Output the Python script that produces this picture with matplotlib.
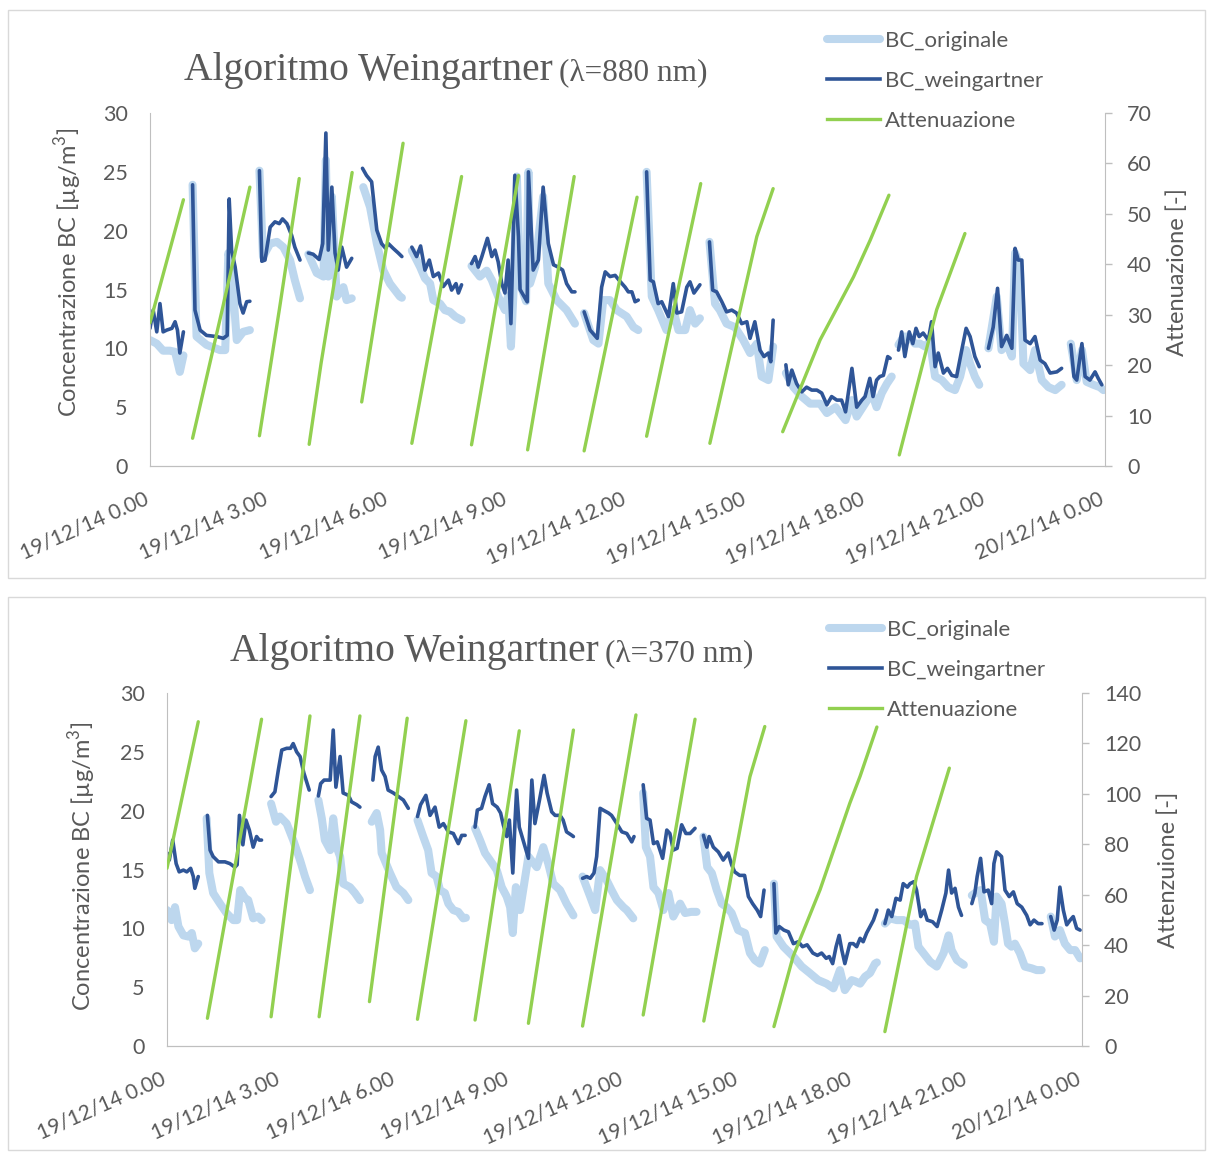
import numpy as np
import matplotlib.pyplot as plt
from matplotlib.lines import Line2D
from matplotlib.patches import Rectangle

# ---- data: (hour of 19/12/14, value) per filter spot, gaps between spots ----
# lambda = 880 nm
bc_orig_880 = [
    [(0.00, 10.7), (0.17, 10.4), (0.33, 9.8), (0.50, 9.8), (0.63, 9.7), (0.75, 8.0), (0.84, 9.4)],
    [(1.07, 23.9), (1.17, 11.0), (1.42, 10.3), (1.76, 9.85), (1.89, 9.85), (1.97, 18.1), (2.05, 16.7),
     (2.18, 10.7), (2.34, 11.4), (2.51, 11.55)],
    [(2.75, 25.1), (2.84, 17.8), (3.02, 18.9), (3.19, 19.05), (3.35, 18.6), (3.52, 17.5), (3.64, 15.8),
     (3.77, 14.25)],
    [(3.98, 18.0), (4.19, 16.4), (4.36, 16.1), (4.42, 26.0), (4.48, 16.1), (4.57, 22.9), (4.69, 14.4),
     (4.86, 15.2), (4.94, 14.1), (5.07, 14.25)],
    [(5.36, 23.7), (5.53, 22.0), (5.70, 18.9), (5.86, 16.65), (6.03, 15.5), (6.28, 14.4), (6.33, 14.3)],
    [(6.58, 18.3), (6.79, 16.9), (6.91, 15.95), (7.04, 15.5), (7.12, 14.1), (7.29, 13.8), (7.41, 13.25),
     (7.54, 13.1), (7.67, 12.7), (7.83, 12.4)],
    [(8.08, 17.0), (8.29, 16.1), (8.46, 16.6), (8.59, 15.8), (8.75, 14.4), (8.92, 13.25), (9.00, 14.5),
     (9.07, 10.15), (9.13, 14.4), (9.22, 24.6), (9.30, 15.5), (9.45, 14.0), (9.51, 25.0), (9.55, 15.5),
     (9.68, 16.9), (9.88, 22.9), (10.01, 15.5), (10.22, 14.1), (10.47, 13.25), (10.68, 12.1)],
    [(10.91, 13.0), (11.14, 10.7), (11.27, 10.4), (11.39, 14.1), (11.56, 14.1), (11.73, 13.25),
     (11.98, 12.7), (12.15, 11.8), (12.27, 11.55)],
    [(12.48, 25.0), (12.61, 14.4), (12.77, 13.25), (12.98, 11.55), (13.15, 13.3), (13.28, 11.55),
     (13.45, 11.55), (13.57, 13.25), (13.70, 12.1), (13.82, 12.55)],
    [(14.06, 19.05), (14.20, 13.8), (14.32, 13.25), (14.49, 12.1), (14.70, 11.8), (14.91, 10.7),
     (15.08, 9.6), (15.25, 10.4), (15.37, 7.6), (15.54, 7.3), (15.66, 10.15)],
    [(15.98, 7.9), (16.17, 6.7), (16.38, 5.9), (16.59, 5.3), (16.84, 5.3), (17.01, 4.5), (17.23, 5.0),
     (17.48, 3.9), (17.64, 5.6), (17.76, 4.2), (17.97, 5.3), (18.14, 6.2), (18.26, 5.0), (18.39, 6.2),
     (18.52, 7.0), (18.64, 7.6)],
    [(18.81, 10.3), (18.94, 11.0), (19.08, 11.0), (19.22, 10.4), (19.35, 10.4), (19.48, 10.15),
     (19.60, 10.6), (19.73, 7.6), (19.90, 7.3), (20.06, 6.7), (20.23, 6.45), (20.36, 7.6), (20.51, 9.85),
     (20.61, 8.7), (20.73, 7.6), (20.84, 6.9)],
    [(21.07, 10.0), (21.28, 14.4), (21.40, 9.85), (21.53, 10.4), (21.66, 9.3), (21.74, 18.1), (21.86, 16.9),
     (21.95, 8.7), (22.12, 8.15), (22.24, 9.85), (22.41, 7.3), (22.58, 6.7), (22.75, 6.45), (22.91, 6.9)],
    [(23.14, 10.4), (23.29, 7.3), (23.42, 9.85), (23.54, 7.15), (23.71, 6.9), (23.87, 6.7), (23.96, 6.45)],
]

bc_wein_880 = [
    [(0.00, 11.7), (0.08, 13.25), (0.17, 11.4), (0.25, 13.8), (0.33, 11.4), (0.42, 11.55), (0.55, 11.7),
     (0.63, 12.26), (0.69, 11.55), (0.75, 9.6), (0.84, 11.4)],
    [(1.07, 23.9), (1.13, 13.25), (1.26, 11.55), (1.42, 11.1), (1.68, 11.0), (1.84, 10.85), (1.94, 11.1),
     (1.99, 22.7), (2.05, 18.35), (2.14, 16.9), (2.26, 13.8), (2.34, 13.0), (2.43, 13.96), (2.51, 14.0)],
    [(2.75, 25.1), (2.81, 17.4), (2.89, 17.5), (3.02, 20.3), (3.14, 20.75), (3.25, 20.6), (3.33, 21.0),
     (3.44, 20.6), (3.56, 19.6), (3.64, 18.6), (3.77, 17.5)],
    [(3.98, 18.1), (4.10, 18.0), (4.25, 17.55), (4.34, 18.9), (4.42, 28.3), (4.48, 18.35), (4.57, 23.7),
     (4.65, 18.1), (4.73, 16.65), (4.82, 18.6), (4.94, 16.9), (5.07, 17.65)],
    [(5.34, 25.3), (5.44, 24.7), (5.57, 24.15), (5.61, 22.9), (5.70, 20.05), (5.82, 18.9), (5.92, 18.5),
     (5.99, 18.9), (6.11, 18.5), (6.24, 18.1), (6.33, 17.8)],
    [(6.58, 18.6), (6.70, 17.8), (6.80, 18.7), (6.91, 16.65), (7.02, 17.5), (7.12, 16.1), (7.25, 16.4),
     (7.37, 15.25), (7.50, 15.8), (7.58, 14.95), (7.69, 15.5), (7.75, 14.7), (7.83, 15.4)],
    [(8.08, 17.2), (8.17, 17.8), (8.25, 16.9), (8.34, 17.8), (8.48, 19.35), (8.59, 17.8), (8.67, 18.35),
     (8.75, 17.35), (8.84, 15.5), (8.92, 14.7), (9.00, 17.5), (9.07, 12.1), (9.13, 19.5), (9.17, 24.7),
     (9.26, 19.5), (9.30, 15.0), (9.48, 13.95), (9.51, 25.0), (9.63, 16.65), (9.76, 17.5), (9.88, 23.7),
     (10.01, 18.9), (10.14, 17.1), (10.26, 16.9), (10.37, 16.65), (10.47, 15.5), (10.60, 14.8), (10.68, 14.8)],
    [(10.91, 13.1), (11.06, 11.55), (11.24, 10.85), (11.35, 15.2), (11.44, 16.5), (11.56, 16.1),
     (11.69, 16.2), (11.81, 15.7), (11.94, 15.2), (12.02, 14.8), (12.11, 14.8), (12.19, 13.96), (12.27, 14.1)],
    [(12.48, 25.0), (12.57, 15.8), (12.65, 15.65), (12.77, 13.8), (12.86, 13.96), (13.03, 12.7),
     (13.15, 15.5), (13.24, 13.0), (13.36, 13.1), (13.49, 15.2), (13.57, 15.65), (13.67, 14.7), (13.82, 15.4)],
    [(14.06, 19.05), (14.14, 14.95), (14.24, 14.8), (14.37, 13.96), (14.49, 13.1), (14.62, 13.25),
     (14.74, 13.0), (14.87, 12.1), (15.00, 12.26), (15.08, 10.85), (15.20, 12.26), (15.33, 9.85),
     (15.43, 9.3), (15.54, 9.6), (15.60, 8.86), (15.66, 12.4)],
    [(15.98, 8.6), (16.04, 6.9), (16.13, 8.15), (16.25, 7.0), (16.38, 6.3), (16.50, 6.7), (16.63, 6.45),
     (16.76, 6.45), (16.88, 6.2), (17.01, 5.2), (17.13, 5.9), (17.26, 5.6), (17.38, 5.6), (17.48, 4.6),
     (17.64, 8.3), (17.76, 5.0), (17.89, 5.6), (17.97, 5.9), (18.09, 7.45), (18.17, 5.9), (18.26, 7.3),
     (18.34, 7.6), (18.43, 7.7), (18.54, 9.3), (18.60, 9.15)],
    [(18.81, 9.85), (18.89, 11.4), (18.97, 9.3), (19.08, 11.4), (19.17, 10.4), (19.25, 11.7), (19.33, 11.0),
     (19.43, 11.3), (19.56, 10.7), (19.64, 12.26), (19.73, 8.44), (19.81, 9.6), (19.94, 7.9), (20.04, 8.3),
     (20.15, 7.7), (20.27, 7.6), (20.40, 9.85), (20.51, 11.7), (20.61, 11.0), (20.73, 9.3), (20.84, 8.44)],
    [(21.07, 10.0), (21.19, 11.8), (21.30, 15.1), (21.40, 10.15), (21.53, 11.1), (21.66, 10.0),
     (21.74, 18.5), (21.82, 17.5), (21.91, 17.5), (21.99, 10.7), (22.12, 10.4), (22.24, 11.0), (22.37, 9.0),
     (22.49, 8.7), (22.62, 7.9), (22.79, 8.0), (22.91, 8.3)],
    [(23.14, 10.3), (23.22, 7.6), (23.29, 7.3), (23.42, 10.4), (23.50, 7.6), (23.62, 7.3), (23.75, 8.0),
     (23.83, 7.45), (23.92, 6.9)],
]

att_880 = [
    [(0.00, 28.4), (0.84, 52.8)],
    [(1.07, 5.5), (1.80, 30.5), (2.51, 55.3)],
    [(2.75, 6.0), (3.25, 31.0), (3.75, 57.0)],
    [(4.00, 4.3), (4.30, 20.4), (5.08, 58.2)],
    [(5.32, 12.7), (6.36, 64.0)],
    [(6.58, 4.5), (7.83, 57.4)],
    [(8.08, 4.2), (9.26, 57.6)],
    [(9.49, 3.2), (10.66, 57.4)],
    [(10.91, 3.0), (12.24, 53.3)],
    [(12.48, 5.9), (13.84, 56.0)],
    [(14.07, 4.5), (15.25, 45.5), (15.66, 55.0)],
    [(15.90, 6.8), (16.84, 25.0), (17.68, 37.5), (18.10, 44.8), (18.57, 53.7)],
    [(18.83, 2.2), (19.77, 31.0), (20.48, 46.1)],
]

# lambda = 370 nm
bc_orig_370 = [
    [(0.00, 11.55), (0.12, 10.7), (0.21, 11.8), (0.30, 10.15), (0.43, 9.4), (0.56, 9.3), (0.65, 9.6),
     (0.73, 8.3), (0.82, 8.7)],
    [(1.04, 19.35), (1.11, 14.7), (1.21, 13.0), (1.39, 12.1), (1.56, 11.3), (1.74, 10.7), (1.84, 10.7),
     (1.92, 13.25), (2.05, 12.55), (2.13, 12.4), (2.26, 10.85), (2.39, 11.0), (2.48, 10.7)],
    [(2.73, 20.6), (2.86, 19.06), (2.96, 19.5), (3.14, 18.9), (3.31, 17.5), (3.49, 15.8), (3.62, 14.4),
     (3.75, 13.25)],
    [(3.97, 20.9), (4.06, 19.35), (4.14, 17.5), (4.28, 16.65), (4.36, 19.35), (4.45, 16.9), (4.54, 16.1),
     (4.62, 13.8), (4.80, 13.5), (4.93, 13.0), (5.06, 12.4)],
    [(5.37, 19.06), (5.50, 19.8), (5.59, 18.35), (5.63, 16.4), (5.85, 14.7), (6.02, 13.5), (6.20, 13.0),
     (6.33, 12.4)],
    [(6.57, 19.2), (6.72, 17.8), (6.85, 16.65), (6.94, 14.7), (7.07, 14.4), (7.16, 13.25), (7.29, 13.0),
     (7.38, 12.1), (7.51, 11.55), (7.64, 11.4), (7.77, 10.85), (7.84, 10.9)],
    [(8.08, 18.5), (8.21, 17.5), (8.34, 16.4), (8.47, 15.8), (8.65, 14.95), (8.78, 13.5), (8.91, 12.7),
     (9.00, 11.8), (9.07, 9.6), (9.15, 13.5), (9.26, 11.55), (9.48, 16.1), (9.70, 15.2), (9.87, 16.9),
     (10.00, 15.5), (10.13, 13.8), (10.31, 13.25), (10.48, 12.1), (10.66, 11.1)],
    [(10.90, 14.4), (11.10, 12.7), (11.23, 11.55), (11.36, 14.95), (11.53, 14.1), (11.66, 13.25),
     (11.80, 12.4), (11.97, 11.8), (12.06, 11.55), (12.23, 10.85)],
    [(12.49, 21.5), (12.56, 16.9), (12.67, 16.1), (12.76, 13.5), (12.89, 13.0), (13.02, 11.55),
     (13.15, 13.0), (13.28, 11.0), (13.46, 12.1), (13.59, 11.3), (13.75, 11.4), (13.89, 11.4)],
    [(14.07, 17.8), (14.17, 15.2), (14.29, 14.7), (14.42, 13.25), (14.55, 12.1), (14.68, 11.8),
     (14.81, 11.3), (14.98, 9.85), (15.16, 9.6), (15.29, 7.9), (15.42, 7.3), (15.55, 7.0), (15.68, 8.15)],
    [(15.92, 13.8), (15.99, 9.3), (16.17, 8.44), (16.43, 7.6), (16.65, 6.75), (16.86, 6.2), (17.08, 5.6),
     (17.30, 5.3), (17.48, 4.9), (17.65, 6.45), (17.78, 4.75), (17.96, 5.6), (18.05, 5.5), (18.18, 5.3),
     (18.31, 5.9), (18.44, 6.2), (18.57, 7.0), (18.62, 7.1)],
    [(18.83, 10.4), (18.96, 10.85), (19.14, 10.7), (19.32, 10.7), (19.49, 10.3), (19.62, 10.4),
     (19.71, 8.44), (19.84, 7.9), (20.02, 7.15), (20.19, 6.75), (20.37, 7.9), (20.50, 9.4), (20.58, 8.15),
     (20.72, 7.3), (20.90, 6.9)],
    [(21.11, 12.8), (21.24, 13.1), (21.34, 13.25), (21.46, 10.7), (21.59, 10.4), (21.69, 8.86),
     (21.76, 12.7), (21.89, 12.1), (21.98, 10.4), (22.06, 8.7), (22.15, 8.44), (22.24, 8.7), (22.37, 7.9),
     (22.50, 6.75), (22.68, 6.6), (22.81, 6.45), (22.94, 6.45)],
    [(23.18, 11.0), (23.29, 9.3), (23.42, 9.85), (23.55, 8.7), (23.69, 8.15), (23.82, 8.15), (23.95, 7.45)],
]

bc_wein_370 = [
    [(0.00, 16.4), (0.06, 15.8), (0.15, 17.5), (0.24, 15.5), (0.32, 14.8), (0.43, 14.95), (0.52, 14.8),
     (0.62, 15.1), (0.69, 14.4), (0.73, 13.4), (0.82, 14.4)],
    [(1.06, 19.6), (1.13, 16.65), (1.21, 16.1), (1.35, 15.65), (1.52, 15.65), (1.65, 15.5), (1.78, 15.2),
     (1.84, 15.4), (1.90, 19.6), (1.99, 17.1), (2.07, 19.2), (2.16, 18.35), (2.26, 16.9), (2.35, 17.8),
     (2.42, 17.5), (2.48, 17.5)],
    [(2.73, 21.2), (2.83, 21.6), (2.92, 23.45), (3.01, 25.15), (3.14, 25.3), (3.24, 25.3), (3.31, 25.7),
     (3.40, 25.0), (3.49, 24.6), (3.59, 23.2), (3.73, 21.75)],
    [(3.97, 21.25), (4.03, 22.3), (4.12, 22.6), (4.28, 22.6), (4.36, 26.85), (4.43, 22.0), (4.54, 24.6),
     (4.62, 21.5), (4.76, 21.3), (4.84, 20.75), (4.98, 20.5), (5.06, 20.3)],
    [(5.40, 22.6), (5.46, 24.6), (5.54, 25.4), (5.63, 23.45), (5.72, 22.9), (5.80, 21.75), (5.94, 21.5),
     (6.07, 21.2), (6.20, 20.9), (6.33, 20.2)],
    [(6.57, 19.5), (6.65, 20.5), (6.79, 21.3), (6.90, 19.6), (7.03, 20.3), (7.14, 18.6), (7.25, 18.9),
     (7.38, 18.2), (7.51, 18.06), (7.64, 17.2), (7.73, 17.9), (7.82, 17.9)],
    [(8.08, 18.6), (8.14, 20.05), (8.25, 20.2), (8.34, 21.2), (8.45, 22.2), (8.54, 20.6), (8.66, 20.3),
     (8.75, 19.8), (8.82, 18.8), (8.91, 17.8), (8.98, 19.2), (9.07, 14.7), (9.13, 19.2), (9.17, 21.75),
     (9.24, 18.6), (9.48, 15.95), (9.57, 22.6), (9.65, 18.9), (9.77, 20.9), (9.89, 23.0), (9.97, 21.5),
     (10.09, 19.9), (10.18, 19.6), (10.31, 19.6), (10.39, 19.2), (10.48, 18.2), (10.62, 17.9), (10.66, 17.8)],
    [(10.90, 14.25), (11.01, 14.4), (11.10, 14.25), (11.20, 14.7), (11.27, 16.1), (11.36, 20.2),
     (11.44, 20.05), (11.58, 19.8), (11.66, 19.6), (11.80, 18.9), (11.93, 18.2), (12.06, 18.06),
     (12.19, 17.35), (12.25, 17.8)],
    [(12.49, 22.2), (12.58, 19.35), (12.67, 19.2), (12.76, 17.2), (12.86, 17.35), (13.00, 15.95),
     (13.11, 18.35), (13.19, 18.06), (13.28, 16.65), (13.38, 16.8), (13.50, 18.8), (13.61, 18.06),
     (13.72, 18.06), (13.85, 18.5)],
    [(14.07, 17.9), (14.16, 16.9), (14.22, 17.8), (14.33, 16.9), (14.46, 16.5), (14.59, 15.8), (14.72, 16.4),
     (14.81, 15.4), (14.89, 14.8), (15.02, 14.5), (15.15, 14.5), (15.25, 12.7), (15.36, 12.1),
     (15.48, 11.55), (15.57, 11.0), (15.66, 13.25)],
    [(15.92, 13.8), (15.97, 9.6), (16.06, 10.15), (16.18, 9.85), (16.30, 9.7), (16.43, 8.7), (16.56, 8.86),
     (16.67, 8.44), (16.79, 8.6), (16.94, 7.9), (17.06, 7.7), (17.17, 7.9), (17.29, 7.45), (17.37, 7.6),
     (17.46, 7.0), (17.55, 8.44), (17.63, 9.4), (17.70, 8.15), (17.78, 7.0), (17.91, 8.7), (18.00, 8.7),
     (18.09, 8.44), (18.18, 9.15), (18.26, 8.86), (18.35, 9.6), (18.44, 10.15), (18.53, 10.7), (18.62, 11.55)],
    [(18.83, 10.4), (18.92, 11.55), (19.01, 11.0), (19.12, 12.55), (19.23, 12.4), (19.31, 13.8),
     (19.42, 13.5), (19.49, 13.8), (19.59, 13.96), (19.66, 13.25), (19.77, 11.0), (19.86, 11.55),
     (19.94, 10.7), (20.08, 10.56), (20.20, 10.15), (20.32, 11.55), (20.43, 13.0), (20.50, 14.95),
     (20.58, 13.0), (20.67, 13.4), (20.76, 11.8), (20.84, 11.1)],
    [(21.11, 12.1), (21.19, 13.0), (21.25, 14.4), (21.34, 15.95), (21.43, 13.1), (21.54, 13.25),
     (21.63, 12.1), (21.69, 15.5), (21.76, 16.5), (21.89, 16.1), (21.98, 13.25), (22.09, 12.7),
     (22.20, 13.1), (22.30, 12.1), (22.42, 11.8), (22.55, 11.1), (22.64, 10.3), (22.74, 10.7),
     (22.85, 10.4), (22.95, 10.4)],
    [(23.18, 11.0), (23.27, 9.85), (23.35, 10.7), (23.42, 13.5), (23.51, 11.55), (23.60, 10.3),
     (23.69, 10.7), (23.77, 11.0), (23.86, 10.0), (23.95, 9.85)],
]

att_370 = [
    [(0.00, 70.5), (0.82, 128.6)],
    [(1.06, 11.0), (2.48, 129.6)],
    [(2.73, 11.6), (3.75, 130.9)],
    [(3.99, 11.6), (5.06, 130.9)],
    [(5.31, 17.6), (6.30, 130.0)],
    [(6.57, 10.6), (7.84, 129.0)],
    [(8.08, 10.3), (9.24, 125.0)],
    [(9.48, 9.0), (10.66, 125.3)],
    [(10.90, 7.9), (12.30, 131.3)],
    [(12.49, 12.3), (13.85, 129.6)],
    [(14.08, 9.9), (15.29, 106.8), (15.68, 126.7)],
    [(15.92, 7.7), (16.42, 35.4), (17.13, 62.0), (17.91, 96.3), (18.18, 107.0), (18.62, 126.5)],
    [(18.83, 5.7), (19.66, 67.2), (20.52, 110.2)],
]

hour_ticks = list(range(0, 25, 3))
tick_labels = ['19/12/14 0.00', '19/12/14 3.00', '19/12/14 6.00', '19/12/14 9.00', '19/12/14 12.00',
               '19/12/14 15.00', '19/12/14 18.00', '19/12/14 21.00', '20/12/14 0.00']

GREY = '#595959'
AXIS = '#bfbfbf'
C_ORIG = '#bdd7ee'
C_WEIN = '#2f5597'
C_ATT = '#92d050'
FONT = 'Lato'

W, H = 1208, 1155


def flatten(segments):
    # join the spot segments with NaN so the line breaks between them
    xs, ys = [], []
    for seg in segments:
        for h, v in seg:
            xs.append(h)
            ys.append(v)
        xs.append(np.nan)
        ys.append(np.nan)
    return xs, ys


def px_rect(x0, y0, x1, y1):
    return [x0 / W, 1 - y1 / H, (x1 - x0) / W, (y1 - y0) / H]


def panel(fig, box, plot, orig, wein, att, att_max, t_main, t_sub, t_pos, right_label,
          left_lab, right_lab, leg_pos):
    fx, fy, fw, fh = px_rect(*box)
    fig.patches.append(Rectangle((fx, fy), fw, fh, transform=fig.transFigure, fill=False,
                                 edgecolor='#d9d9d9', lw=1.0))

    ax = fig.add_axes(px_rect(*plot))
    ax2 = ax.twinx()

    x, y = flatten(orig)
    ax.plot(x, y, color=C_ORIG, lw=5.8, solid_capstyle='round', solid_joinstyle='round')
    x, y = flatten(wein)
    ax.plot(x, y, color=C_WEIN, lw=2.6, solid_capstyle='round', solid_joinstyle='round')
    x, y = flatten(att)
    ax2.plot(x, y, color=C_ATT, lw=2.4, solid_capstyle='round', solid_joinstyle='round')

    ax.set_xlim(0, 24)
    ax.set_ylim(0, 30)
    ax.set_yticks(range(0, 31, 5))
    ax2.set_ylim(0, att_max)
    ax2.set_yticks(range(0, att_max + 1, att_max // 7))

    for a in (ax, ax2):
        a.spines['top'].set_visible(False)
        for s in ('left', 'right', 'bottom'):
            a.spines[s].set_color(AXIS)
    ax.spines['right'].set_visible(False)
    ax2.spines['left'].set_visible(False)

    ax.set_xticks(hour_ticks)
    ax.set_xticklabels(tick_labels)
    ax.tick_params(axis='x', length=0, pad=27, labelsize=15, labelcolor=GREY)
    for lbl in ax.get_xticklabels():
        lbl.set(rotation=24, ha='right', va='baseline', rotation_mode='anchor', family=FONT)
    ax.tick_params(axis='y', length=0, pad=16, labelsize=15.5, labelcolor=GREY)
    ax2.tick_params(axis='y', length=5, width=1, color=AXIS, pad=11, labelsize=15.5, labelcolor=GREY)
    for lbl in ax.get_yticklabels() + ax2.get_yticklabels():
        lbl.set_family(FONT)

    ax.set_ylabel(r'Concentrazione BC [µg/m$^{\mathregular{3}}$]', fontsize=17, color=GREY, family=FONT)
    ax.yaxis.set_label_coords(*left_lab)
    ax2.set_ylabel(right_label, fontsize=17, color=GREY, family=FONT)
    ax2.yaxis.set_label_coords(*right_lab)

    # title in two sizes
    tx, ty = t_pos
    t1 = fig.text(tx / W, 1 - ty / H, t_main, fontsize=28.5, color=GREY, family='Liberation Serif',
                  va='baseline', ha='left')
    r = fig.canvas.get_renderer()
    bb = t1.get_window_extent(renderer=r)
    fig.text((bb.x1 + 6) / W, 1 - ty / H, t_sub, fontsize=22.5, color=GREY, family='Liberation Serif',
             va='baseline', ha='left')

    handles = [Line2D([], [], color=C_ORIG, lw=5.8, solid_capstyle='round'),
               Line2D([], [], color=C_WEIN, lw=2.6),
               Line2D([], [], color=C_ATT, lw=2.4)]
    fig.legend(handles, ['BC_originale', 'BC_weingartner', 'Attenuazione'],
               loc='upper left', bbox_to_anchor=(leg_pos[0] / W, 1 - leg_pos[1] / H),
               frameon=False, borderpad=0, borderaxespad=0, handlelength=2.4, handletextpad=0.22,
               labelspacing=0.9, prop={'family': FONT, 'size': 16}, labelcolor=GREY)


fig = plt.figure(figsize=(W / 100, H / 100), dpi=100)

panel(fig, (8, 10, 1205, 578), (150, 113, 1105, 466), bc_orig_880, bc_wein_880, att_880, 70,
      'Algoritmo Weingartner', '(λ=880 nm)', (184, 80), 'Attenuazione [-]',
      (-0.069, 0.547), (1.064, 0.55), (827, 31))
panel(fig, (8, 597, 1205, 1150), (167, 693, 1082, 1046), bc_orig_370, bc_wein_370, att_370, 140,
      'Algoritmo Weingartner', '(λ=370 nm)', (230, 661), 'Attenzuione [-]',
      (-0.075, 0.508), (1.082, 0.5), (829, 620))

fig.savefig('out.png', dpi=100)
